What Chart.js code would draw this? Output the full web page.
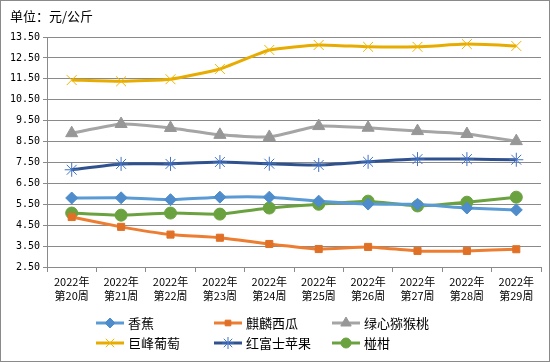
<!DOCTYPE html>
<html>
<head>
<meta charset="utf-8">
<script src="https://cdn.jsdelivr.net/npm/chart.js@4.4.0/dist/chart.umd.min.js"></script>
<style>
  body { margin: 0; background: #fff; }
  #wrap { width: 550px; height: 362px; position: relative; }
</style>
</head>
<body>
<div id="wrap"><canvas id="c" width="550" height="362"></canvas></div>
<script>
// weeks (x axis)
const weeks = ["第20周", "第21周", "第22周", "第23周", "第24周", "第25周", "第26周", "第27周", "第28周", "第29周"];
const yTicks = [2.5, 3.5, 4.5, 5.5, 6.5, 7.5, 8.5, 9.5, 10.5, 11.5, 12.5, 13.5];

// prices, 元/公斤
const banana     = [5.80, 5.81, 5.72, 5.84, 5.84, 5.65, 5.51, 5.50, 5.32, 5.23];
const watermelon = [4.89, 4.42, 4.05, 3.90, 3.60, 3.36, 3.46, 3.27, 3.27, 3.35];
const kiwi       = [8.90, 9.34, 9.15, 8.82, 8.72, 9.24, 9.16, 9.00, 8.86, 8.52];
const grape      = [11.44, 11.38, 11.48, 11.97, 12.88, 13.12, 13.03, 13.03, 13.16, 13.07];
const apple      = [7.15, 7.43, 7.43, 7.52, 7.44, 7.38, 7.53, 7.66, 7.66, 7.63];
const ponkan     = [5.08, 4.98, 5.08, 5.03, 5.32, 5.50, 5.65, 5.42, 5.60, 5.84];

const gridColor = "#8a8a8a";

function series(label, data, line, marker, style, radius) {
  return {
    label, data,
    borderColor: line,
    backgroundColor: marker,
    pointBackgroundColor: marker,
    pointBorderColor: marker,
    pointStyle: style,
    pointRadius: radius,
    pointBorderWidth: 1,
    borderWidth: 3,
    tension: 0.15,
    fill: false
  };
}

const datasets = [
  series("香蕉", banana, "#5B9BD5", "#4E8CCB", "rectRot", 6),
  series("麒麟西瓜", watermelon, "#ED7D31", "#E07026", "rect", 5),
  series("绿心猕猴桃", kiwi, "#A5A5A5", "#979797", "triangle", 7),
  series("巨峰葡萄", grape, "#E8AC00", "#F0B400", "crossRot", 7),
  series("红富士苹果", apple, "#2F528F", "#4472C4", "star", 7),
  series("椪柑", ponkan, "#6AA23F", "#6AA23F", "circle", 6)
];

// title, outer border and a legend laid out in fixed columns
const decor = {
  id: "decor",
  afterDraw(chart) {
    const ctx = chart.ctx;
    ctx.save();
    ctx.strokeStyle = "#8a8a8a";
    ctx.lineWidth = 1;
    ctx.strokeRect(0.5, 0.5, 549, 361);

    ctx.fillStyle = "#000";
    ctx.font = "13px 'Noto Sans CJK SC'";
    ctx.textBaseline = "middle";
    ctx.textAlign = "left";
    ctx.fillText("单位：元/公斤", 10, 16);

    chart.data.datasets.forEach((ds, i) => {
      const col = i % 3, row = Math.floor(i / 3);
      const x0 = 96 + col * 118, y = 323 + row * 20;
      ctx.strokeStyle = ds.borderColor;
      ctx.lineWidth = 3;
      ctx.beginPath();
      ctx.moveTo(x0, y);
      ctx.lineTo(x0 + 28, y);
      ctx.stroke();

      ctx.fillStyle = ds.pointBackgroundColor;
      ctx.strokeStyle = ds.pointBorderColor;
      ctx.lineWidth = 1;
      Chart.helpers.drawPoint(ctx, {
        pointStyle: ds.pointStyle,
        radius: ds.pointRadius - 1,
        borderWidth: 1,
        rotation: 0
      }, x0 + 14, y);

      ctx.fillStyle = "#000";
      ctx.font = "13px 'Noto Sans CJK SC'";
      ctx.fillText(ds.label, x0 + 32, y);
    });
    ctx.restore();
  }
};

new Chart(document.getElementById("c"), {
  type: "line",
  data: {
    labels: weeks.map(w => ["2022年", w]),
    datasets
  },
  options: {
    responsive: false,
    animation: false,
    layout: { padding: { left: 0, right: 9, top: 37, bottom: 56 } },
    plugins: {
      legend: { display: false },
      title: { display: false },
      tooltip: { enabled: false }
    },
    scales: {
      x: {
        offset: true,
        grid: {
          offset: true,
          drawOnChartArea: false,
          drawTicks: true,
          tickLength: 5,
          color: gridColor
        },
        border: { color: gridColor },
        ticks: {
          color: "#000",
          font: { family: "'Noto Sans CJK SC'", size: 11, lineHeight: 1.25 },
          maxRotation: 0,
          autoSkip: false,
          padding: 3
        },
        afterFit(scale) { scale.height = 39; }
      },
      y: {
        min: 2.5,
        max: 13.5,
        afterBuildTicks(scale) { scale.ticks = yTicks.map(v => ({ value: v })); },
        grid: { color: gridColor, tickLength: 4 },
        border: { color: gridColor },
        ticks: {
          color: "#000",
          font: { family: "'DejaVu Sans Mono'", size: 10 },
          padding: 3,
          callback: v => Number(v).toFixed(2)
        },
        afterFit(scale) { scale.width = 47; }
      }
    }
  },
  plugins: [decor]
});
</script>
</body>
</html>
